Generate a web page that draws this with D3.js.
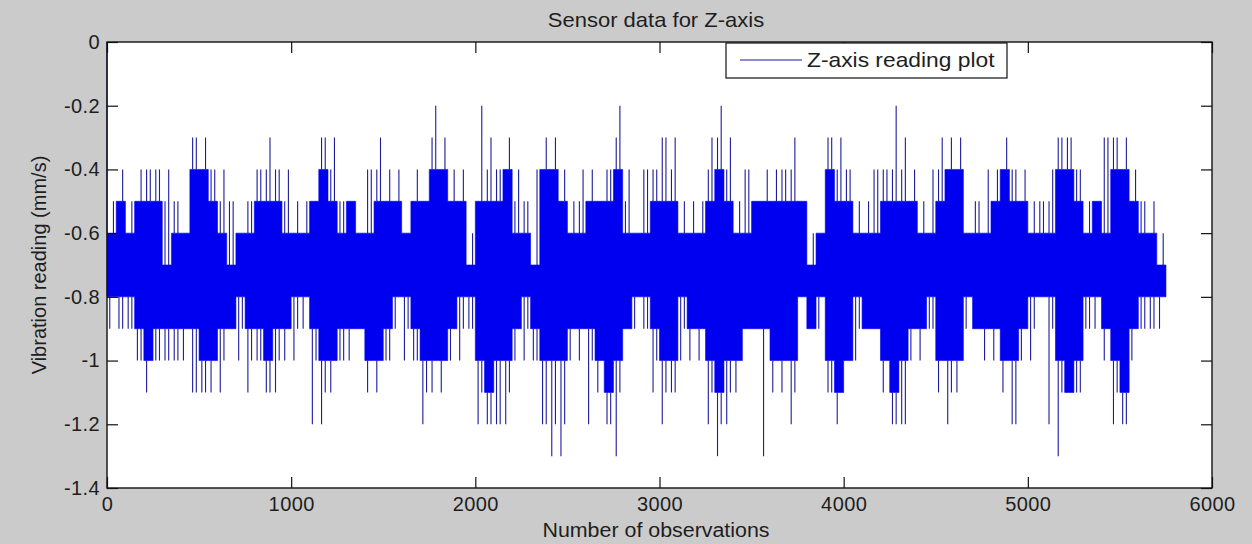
<!DOCTYPE html>
<html>
<head>
<meta charset="utf-8">
<script src="https://cdn.jsdelivr.net/npm/d3@7"></script>
<style>
  body { margin: 0; background: #cbcbcb; }
  svg text { font-family: "Liberation Sans", Arial, sans-serif; fill: #1e1e1e; }
</style>
</head>
<body>
<svg id="chart" width="1252" height="544"></svg>
<script>
// readings grouped in blocks of 50 observations (5750 in total)
var binSize = 50;
var firstReading = 0;

// range that the signal fills solidly inside each block
var coreHi = [-0.6,-0.5,-0.6,-0.5,-0.5,-0.5,-0.7,-0.6,-0.6,-0.4,
              -0.4,-0.5,-0.6,-0.7,-0.6,-0.6,-0.5,-0.5,-0.5,-0.6,
              -0.6,-0.6,-0.5,-0.4,-0.5,-0.6,-0.5,-0.6,-0.6,-0.5,
              -0.5,-0.5,-0.6,-0.5,-0.5,-0.4,-0.4,-0.5,-0.5,-0.7,
              -0.5,-0.5,-0.5,-0.4,-0.6,-0.6,-0.7,-0.4,-0.4,-0.5,
              -0.6,-0.6,-0.5,-0.5,-0.5,-0.4,-0.6,-0.6,-0.6,-0.5,
              -0.5,-0.5,-0.6,-0.6,-0.6,-0.5,-0.4,-0.5,-0.6,-0.6,
              -0.5,-0.5,-0.5,-0.5,-0.5,-0.5,-0.7,-0.6,-0.4,-0.5,
              -0.5,-0.6,-0.6,-0.6,-0.5,-0.5,-0.5,-0.5,-0.6,-0.6,
              -0.5,-0.4,-0.4,-0.6,-0.6,-0.6,-0.5,-0.4,-0.5,-0.5,
              -0.6,-0.6,-0.6,-0.4,-0.4,-0.5,-0.6,-0.5,-0.6,-0.4,
              -0.4,-0.5,-0.6,-0.6,-0.7];
var coreLo = [-0.8,-0.8,-0.8,-0.9,-1.0,-0.9,-0.9,-0.9,-0.9,-0.9,
              -1.0,-1.0,-0.9,-0.9,-0.8,-0.9,-0.9,-1.0,-0.9,-0.9,
              -0.8,-0.8,-0.9,-1.0,-1.0,-0.9,-0.9,-0.9,-1.0,-1.0,
              -0.9,-0.8,-0.8,-0.9,-1.0,-1.0,-1.0,-0.9,-0.8,-0.8,
              -1.0,-1.1,-1.0,-1.0,-0.9,-0.8,-0.9,-1.0,-1.0,-1.0,
              -0.9,-0.9,-0.9,-1.0,-1.1,-1.0,-0.9,-0.8,-0.8,-0.9,
              -1.0,-1.0,-0.8,-0.9,-0.9,-1.0,-1.1,-1.0,-1.0,-0.9,
              -0.9,-0.9,-1.0,-1.0,-1.0,-0.8,-0.9,-0.8,-1.0,-1.1,
              -1.0,-0.8,-0.9,-0.9,-1.0,-1.1,-1.0,-0.9,-0.9,-0.8,
              -1.0,-1.0,-1.0,-0.8,-0.9,-0.9,-0.9,-1.0,-1.0,-0.9,
              -0.8,-0.8,-0.8,-1.0,-1.1,-1.0,-0.8,-0.8,-0.9,-1.0,
              -1.1,-0.9,-0.8,-0.8,-0.8];

// highest and lowest single reading in each block
var peak = [-0.5,-0.4,-0.5,-0.4,-0.4,-0.4,-0.4,-0.5,-0.6,-0.3,
            -0.3,-0.4,-0.4,-0.5,-0.6,-0.5,-0.4,-0.3,-0.4,-0.4,
            -0.5,-0.5,-0.5,-0.3,-0.3,-0.5,-0.5,-0.6,-0.4,-0.3,
            -0.4,-0.4,-0.6,-0.4,-0.5,-0.2,-0.3,-0.4,-0.4,-0.6,
            -0.2,-0.3,-0.4,-0.3,-0.4,-0.5,-0.4,-0.3,-0.3,-0.4,
            -0.5,-0.4,-0.4,-0.5,-0.4,-0.2,-0.4,-0.6,-0.4,-0.4,
            -0.3,-0.3,-0.5,-0.5,-0.5,-0.3,-0.2,-0.3,-0.5,-0.4,
            -0.5,-0.4,-0.4,-0.4,-0.3,-0.5,-0.6,-0.6,-0.3,-0.3,
            -0.4,-0.5,-0.5,-0.4,-0.4,-0.2,-0.3,-0.4,-0.5,-0.4,
            -0.3,-0.3,-0.3,-0.6,-0.5,-0.4,-0.4,-0.3,-0.4,-0.4,
            -0.5,-0.5,-0.4,-0.3,-0.3,-0.4,-0.5,-0.5,-0.3,-0.3,
            -0.3,-0.4,-0.5,-0.5,-0.6];
var trough = [-0.9,-0.9,-0.9,-1.0,-1.1,-1.0,-1.0,-1.0,-1.0,-1.1,
              -1.1,-1.1,-1.1,-0.9,-1.0,-1.1,-1.0,-1.1,-1.1,-1.0,
              -1.0,-0.9,-1.2,-1.2,-1.1,-1.0,-1.0,-0.9,-1.1,-1.1,
              -1.0,-0.9,-1.0,-1.0,-1.2,-1.1,-1.1,-1.0,-1.0,-0.9,
              -1.2,-1.2,-1.2,-1.2,-1.0,-1.0,-1.0,-1.2,-1.3,-1.3,
              -1.0,-1.0,-1.2,-1.1,-1.2,-1.3,-0.9,-0.9,-0.9,-1.1,
              -1.2,-1.1,-1.0,-1.0,-1.0,-1.2,-1.3,-1.2,-1.1,-0.9,
              -0.9,-1.3,-1.1,-1.1,-1.2,-0.8,-0.9,-0.9,-1.1,-1.2,
              -1.0,-1.0,-0.9,-0.9,-1.1,-1.2,-1.2,-1.0,-1.0,-0.9,
              -1.1,-1.2,-1.1,-0.9,-0.9,-1.0,-1.0,-1.1,-1.2,-1.0,
              -1.0,-0.8,-1.2,-1.3,-1.1,-1.1,-0.9,-0.9,-1.0,-1.2,
              -1.2,-1.0,-0.9,-0.9,-0.9];

// second-highest and second-lowest excursion in each block (equal to the core edge where there is none)
var peak2 = [-0.6,-0.5,-0.6,-0.5,-0.4,-0.4,-0.5,-0.5,-0.6,-0.3,
             -0.4,-0.4,-0.5,-0.5,-0.6,-0.5,-0.4,-0.4,-0.4,-0.5,
             -0.6,-0.6,-0.5,-0.3,-0.4,-0.5,-0.5,-0.6,-0.4,-0.4,
             -0.5,-0.5,-0.6,-0.5,-0.5,-0.3,-0.4,-0.5,-0.5,-0.7,
             -0.5,-0.4,-0.4,-0.4,-0.5,-0.5,-0.7,-0.4,-0.4,-0.5,
             -0.6,-0.5,-0.5,-0.5,-0.4,-0.3,-0.5,-0.6,-0.4,-0.4,
             -0.3,-0.4,-0.6,-0.6,-0.6,-0.4,-0.3,-0.4,-0.6,-0.4,
             -0.5,-0.5,-0.5,-0.4,-0.4,-0.5,-0.7,-0.6,-0.3,-0.4,
             -0.4,-0.6,-0.6,-0.4,-0.4,-0.4,-0.4,-0.5,-0.6,-0.6,
             -0.4,-0.4,-0.4,-0.6,-0.5,-0.6,-0.5,-0.4,-0.4,-0.5,
             -0.6,-0.5,-0.5,-0.3,-0.3,-0.4,-0.6,-0.5,-0.3,-0.3,
             -0.4,-0.5,-0.5,-0.6,-0.7];
var trough2 = [-0.8,-0.9,-0.9,-1.0,-1.0,-1.0,-1.0,-1.0,-0.9,-1.1,
               -1.1,-1.0,-1.0,-0.9,-0.9,-1.0,-1.0,-1.1,-1.0,-0.9,
               -0.9,-0.8,-1.0,-1.1,-1.0,-1.0,-0.9,-0.9,-1.0,-1.0,
               -1.0,-0.8,-0.9,-1.0,-1.1,-1.0,-1.0,-0.9,-0.9,-0.9,
               -1.1,-1.2,-1.2,-1.1,-0.9,-0.9,-1.0,-1.2,-1.2,-1.2,
               -0.9,-0.9,-1.0,-1.0,-1.2,-1.1,-0.9,-0.8,-0.9,-1.0,
               -1.1,-1.1,-0.9,-0.9,-0.9,-1.1,-1.2,-1.1,-1.0,-0.9,
               -0.9,-0.9,-1.0,-1.0,-1.1,-0.8,-0.9,-0.8,-1.1,-1.1,
               -0.9,-0.9,-0.9,-0.9,-1.0,-1.2,-1.2,-0.9,-0.9,-0.9,
               -1.0,-1.1,-1.0,-0.8,-0.9,-0.9,-0.9,-1.0,-1.2,-0.9,
               -0.9,-0.8,-0.9,-1.1,-1.1,-1.1,-0.9,-0.8,-0.9,-1.1,
               -1.2,-0.9,-0.9,-0.9,-0.8];

var xTicks = [0, 1000, 2000, 3000, 4000, 5000, 6000];
var yTicks = [0, -0.2, -0.4, -0.6, -0.8, -1, -1.2, -1.4];

var plotLeft = 107, plotRight = 1212, plotTop = 42, plotBottom = 488;
var lineColor = "#0000f0";
var spikeColor = "#1c1c9c";

var svg = d3.select("#chart");

var x = d3.scaleLinear().domain([0, 6000]).range([plotLeft, plotRight]);
var y = d3.scaleLinear().domain([-1.4, 0]).range([plotBottom, plotTop]);

svg.append("rect")
    .attr("x", plotLeft).attr("y", plotTop)
    .attr("width", plotRight - plotLeft).attr("height", plotBottom - plotTop)
    .attr("fill", "#ffffff");

var blocks = coreHi.map(function(v, i) {
    return { obs: i * binSize, hi: v, lo: coreLo[i],
             peak: peak[i], trough: trough[i], peak2: peak2[i], trough2: trough2[i] };
});
// closing point so the last block gets its full width
blocks.push({ obs: blocks.length * binSize, hi: coreHi[coreHi.length - 1], lo: coreLo[coreLo.length - 1] });

var plot = svg.append("g");

var band = d3.area()
    .x(function(d) { return x(d.obs); })
    .y0(function(d) { return y(d.lo); })
    .y1(function(d) { return y(d.hi); })
    .curve(d3.curveStepAfter);

plot.append("path")
    .datum(blocks)
    .attr("d", band)
    .attr("fill", lineColor)
    .attr("stroke", lineColor)
    .attr("stroke-width", 0.6);

// thin excursions beyond the solid band
var spikes = [];
blocks.slice(0, coreHi.length).forEach(function(d) {
    var a = d.obs + binSize * 0.7, b = d.obs + binSize * 0.3;
    if (d.peak > d.hi) spikes.push({ obs: a, from: d.hi, to: d.peak });
    if (d.trough < d.lo) spikes.push({ obs: b, from: d.lo, to: d.trough });
    if (d.peak2 > d.hi) spikes.push({ obs: b, from: d.hi, to: d.peak2 });
    if (d.trough2 < d.lo) spikes.push({ obs: a, from: d.lo, to: d.trough2 });
});
spikes.push({ obs: 0, from: coreHi[0], to: firstReading });

plot.selectAll("line.spike")
    .data(spikes)
    .enter()
    .append("line")
        .attr("class", "spike")
        .attr("x1", function(d) { return x(d.obs); })
        .attr("x2", function(d) { return x(d.obs); })
        .attr("y1", function(d) { return y(d.from); })
        .attr("y2", function(d) { return y(d.to); })
        .attr("stroke", spikeColor)
        .attr("stroke-width", 1.1);

// axes, ticks pointing inward like MATLAB
var fmtY = function(d) { return d === 0 ? "0" : String(+d.toFixed(1)); };

var gx = svg.append("g")
    .attr("transform", "translate(0," + plotBottom + ")")
    .call(d3.axisBottom(x).tickValues(xTicks).tickSize(-11).tickSizeOuter(0).tickPadding(9).tickFormat(d3.format("d")));
var gxTop = svg.append("g")
    .attr("transform", "translate(0," + plotTop + ")")
    .call(d3.axisTop(x).tickValues(xTicks).tickSize(-11).tickSizeOuter(0).tickFormat(""));
var gy = svg.append("g")
    .attr("transform", "translate(" + plotLeft + ",0)")
    .call(d3.axisLeft(y).tickValues(yTicks).tickSize(-11).tickSizeOuter(0).tickPadding(7).tickFormat(fmtY));
var gyRight = svg.append("g")
    .attr("transform", "translate(" + plotRight + ",0)")
    .call(d3.axisRight(y).tickValues(yTicks).tickSize(-11).tickSizeOuter(0).tickFormat(""));

[gx, gxTop, gy, gyRight].forEach(function(g) {
    g.select(".domain").remove();
    g.selectAll(".tick line").attr("stroke", "#111").attr("stroke-width", 1.2);
    g.selectAll(".tick text")
        .attr("fill", "#1e1e1e")
        .style("font-size", "20px")
        .style("letter-spacing", "0.4px");
});

svg.append("rect")
    .attr("x", plotLeft).attr("y", plotTop)
    .attr("width", plotRight - plotLeft).attr("height", plotBottom - plotTop)
    .attr("fill", "none")
    .attr("stroke", "#111")
    .attr("stroke-width", 1.4);

// legend
var legend = svg.append("g");
legend.append("rect")
    .attr("x", 726).attr("y", 43)
    .attr("width", 281).attr("height", 35)
    .attr("fill", "#ffffff")
    .attr("stroke", "#111")
    .attr("stroke-width", 1.2);
legend.append("line")
    .attr("x1", 740).attr("x2", 802)
    .attr("y1", 60).attr("y2", 60)
    .attr("stroke", spikeColor)
    .attr("stroke-width", 1.2);
legend.append("text")
    .attr("transform", "translate(807,67) scale(1.14,1)")
    .style("font-size", "20px")
    .text("Z-axis reading plot");

// titles (the source picture is slightly stretched sideways)
svg.append("text")
    .attr("transform", "translate(656,27) scale(1.1,1)")
    .attr("text-anchor", "middle")
    .style("font-size", "20px")
    .text("Sensor data for Z-axis");

svg.append("text")
    .attr("transform", "translate(656,537) scale(1.07,1)")
    .attr("text-anchor", "middle")
    .style("font-size", "20px")
    .text("Number of observations");

svg.append("text")
    .attr("transform", "translate(46,265) rotate(-90)")
    .attr("text-anchor", "middle")
    .style("font-size", "20px")
    .text("Vibration reading (mm/s)");
</script>
</body>
</html>
